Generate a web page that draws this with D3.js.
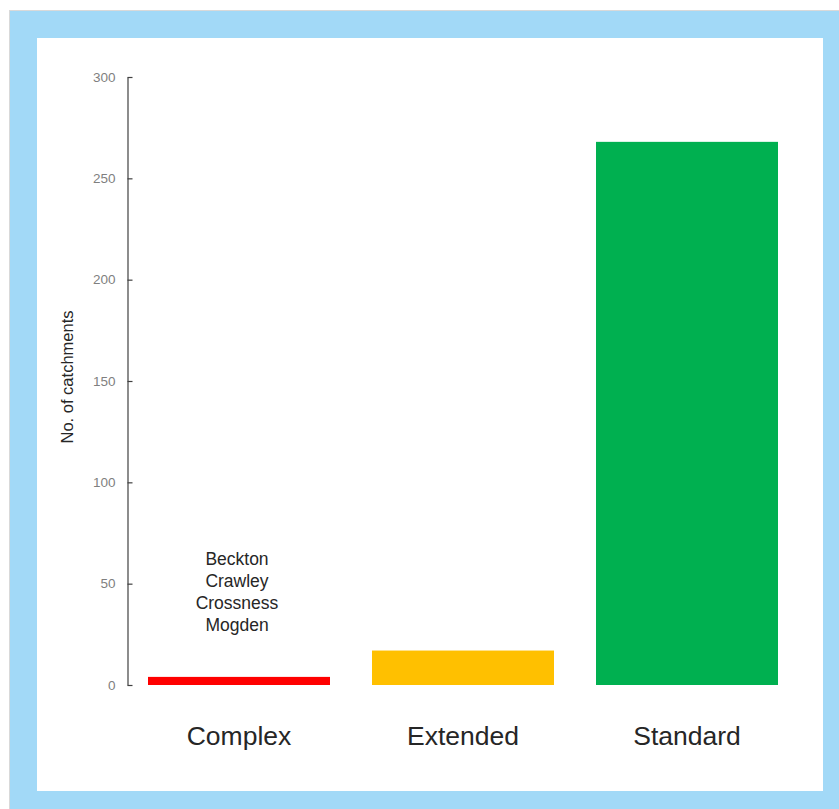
<!DOCTYPE html>
<html>
<head>
<meta charset="utf-8">
<script src="https://cdn.jsdelivr.net/npm/d3@7"></script>
<style>
  html, body { margin: 0; padding: 0; background: #ffffff; }
  svg { display: block; }
</style>
</head>
<body>
<svg id="chart" width="839" height="809"></svg>
<script>
// Catchment counts by classification
const categories = ["Complex", "Extended", "Standard"];
const catchments = [4, 17, 268];
const barColors = ["#ff0000", "#ffc000", "#00b050"];
const complexNames = ["Beckton", "Crawley", "Crossness", "Mogden"];
const yTicks = [0, 50, 100, 150, 200, 250, 300];
const yTitle = "No. of catchments";

const svg = d3.select("#chart");
const W = 839, H = 809;

// Framed card: thin grey edge, light-blue band, white panel
svg.append("rect").attr("x", 9).attr("y", 10).attr("width", W - 9).attr("height", H - 10).attr("fill", "#d9d9d9");
svg.append("rect").attr("x", 10).attr("y", 11).attr("width", W - 10).attr("height", H - 11).attr("fill", "#a2d9f7");
svg.append("rect").attr("x", 37).attr("y", 38).attr("width", 786).attr("height", 753).attr("fill", "#ffffff");

const plot = { left: 127, right: 799, top: 77, bottom: 685 };

const y = d3.scaleLinear().domain([0, 300]).range([plot.bottom, plot.top]);
const x = d3.scaleBand()
  .domain(categories)
  .range([plot.left, plot.right])
  .paddingInner(0.1875)
  .paddingOuter(0.09375);

// Y axis with short inward ticks
const yAxis = svg.append("g")
  .attr("transform", `translate(${plot.left + 0.5},0)`)
  .call(d3.axisLeft(y).tickValues(yTicks).tickSize(-5).tickPadding(12).tickSizeOuter(0));
yAxis.select(".domain").attr("stroke", "#404040").attr("stroke-width", 1.2);
yAxis.selectAll(".tick line").attr("stroke", "#404040").attr("stroke-width", 1.2);
yAxis.selectAll(".tick text")
  .attr("fill", "#7f7f7f")
  .attr("font-family", "Liberation Sans, Arial, sans-serif")
  .attr("font-size", 13.5);

// Y axis title
svg.append("text")
  .attr("transform", `translate(73,${(plot.top + plot.bottom) / 2 - 4}) rotate(-90)`)
  .attr("text-anchor", "middle")
  .attr("font-family", "Liberation Sans, Arial, sans-serif")
  .attr("font-size", 16.5)
  .attr("fill", "#262626")
  .text(yTitle);

// Bars
svg.selectAll("rect.bar")
  .data(categories)
  .join("rect")
  .attr("class", "bar")
  .attr("x", d => x(d))
  .attr("width", x.bandwidth())
  .attr("y", (d, i) => y(catchments[i]))
  .attr("height", (d, i) => y(0) - y(catchments[i]))
  .attr("fill", (d, i) => barColors[i]);

// Category labels
svg.selectAll("text.cat")
  .data(categories)
  .join("text")
  .attr("class", "cat")
  .attr("x", d => x(d) + x.bandwidth() / 2)
  .attr("y", 745)
  .attr("text-anchor", "middle")
  .attr("font-family", "Liberation Sans, Arial, sans-serif")
  .attr("font-size", 26.5)
  .attr("fill", "#262626")
  .text(d => d);

// Names of the complex catchments above the first bar
const nameX = x("Complex") + x.bandwidth() / 2 - 2;
svg.append("text")
  .attr("text-anchor", "middle")
  .attr("font-family", "Liberation Sans, Arial, sans-serif")
  .attr("font-size", 17.5)
  .attr("fill", "#262626")
  .selectAll("tspan")
  .data(complexNames)
  .join("tspan")
  .attr("x", nameX)
  .attr("y", (d, i) => 565 + i * 22)
  .text(d => d);
</script>
</body>
</html>
